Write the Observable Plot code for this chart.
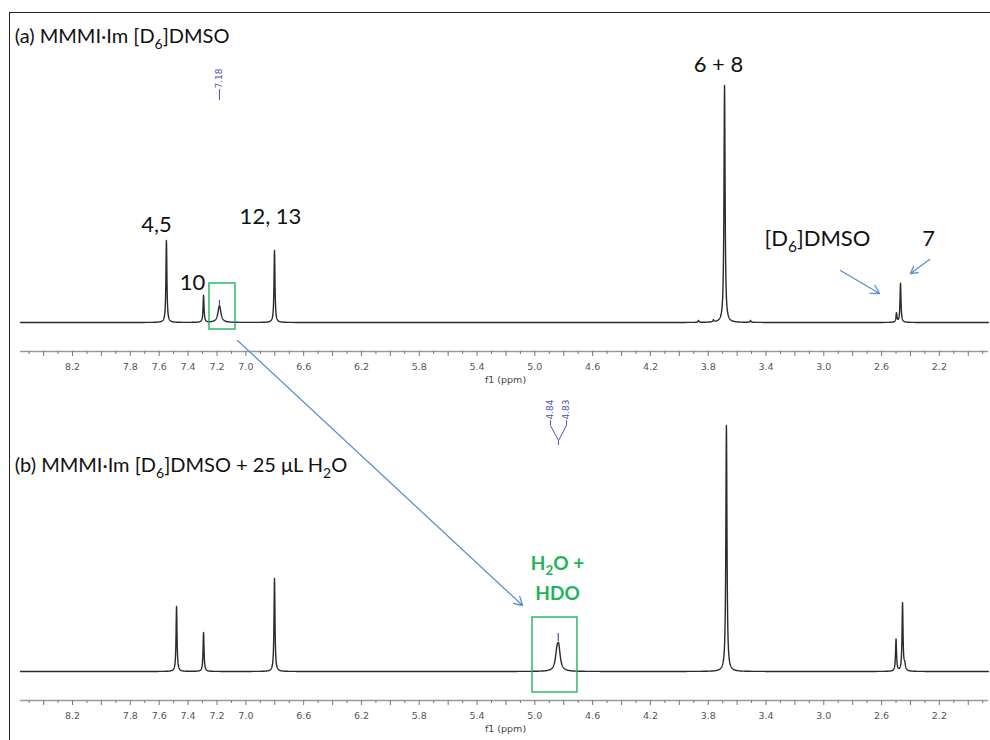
<!DOCTYPE html>
<html><head><meta charset="utf-8">
<script src="https://cdn.jsdelivr.net/npm/d3@7"></script>
<script src="https://cdn.jsdelivr.net/npm/@observablehq/plot@0.6"></script>
<style>
body{margin:0;background:#fff;}
#wrap{position:relative;width:990px;height:740px;overflow:hidden;background:#fff;}
#border{position:absolute;left:9px;top:11.5px;width:1000px;height:760px;border-top:1.6px solid #222;border-left:1.6px solid #222;pointer-events:none;}
</style></head>
<body><div id="wrap"><div id="chart"></div><div id="border"></div></div>
<script>
// ---------- data ----------
const panels = ["a", "b"];
const panelTitles = ["(a) MMMI·Im [D_6]DMSO", "(b) MMMI·Im [D_6]DMSO + 25 μL H_2O"];

// panel (a) peaks: chemical shift (ppm), height, half width (ppm)
const peaksA_ppm    = [7.550, 7.293, 7.183, 6.802, 3.867, 3.764, 3.687, 3.507, 2.497, 2.469];
const peaksA_height = [82,    27,    17,    72,    2,     2,     237,   2,     9,     39];
const peaksA_hw     = [0.004, 0.004, 0.012, 0.004, 0.004, 0.004, 0.0045, 0.004, 0.004, 0.004];

// panel (b) peaks
const peaksB_ppm    = [7.480, 7.293, 6.802, 4.848, 4.835, 3.674, 2.500, 2.455, 2.440];
const peaksB_height = [65,    39,    93,    14,    22,    246,   32,    68,    6];
const peaksB_hw     = [0.004, 0.004, 0.004, 0.012, 0.013, 0.0045, 0.004, 0.004, 0.006];

// axis ticks
const tickLabels = [8.2, 7.8, 7.6, 7.4, 7.2, 7.0, 6.6, 6.2, 5.8, 5.4, 5.0, 4.6, 4.2, 3.8, 3.4, 3.0, 2.6, 2.2];
const majorTicks = [8.4, 8.2, 8.0, 7.8, 7.6, 7.4, 7.2, 7.0, 6.8, 6.6, 6.4, 6.2, 6.0, 5.8, 5.6, 5.4, 5.2, 5.0, 4.8, 4.6, 4.4, 4.2, 4.0, 3.8, 3.6, 3.4, 3.2, 3.0, 2.8, 2.6, 2.4, 2.2, 2.0];
const minorTicks = [8.5, 8.3, 8.1, 7.9, 7.7, 7.5, 7.3, 7.1, 6.9, 6.7, 6.5, 6.3, 6.1, 5.9, 5.7, 5.5, 5.3, 5.1, 4.9, 4.7, 4.5, 4.3, 4.1, 3.9, 3.7, 3.5, 3.3, 3.1, 2.9, 2.7, 2.5, 2.3, 2.1, 1.9];

// peak labels
const peakLabelText  = ["4,5", "10", "12, 13", "6 + 8", "[D_6]DMSO", "7"];
const peakLabelPanel = ["a", "a", "a", "a", "a", "a"];
const peakPickA = ["7.18"];
const peakPickB = ["4.84", "4.83"];
const waterLabel = ["H_2O +", "HDO"];

// ---------- build spectra from the peak lists ----------
const X_MAX = 8.56, X_MIN = 1.86;
function spectrum(panel, ppm, h, hw) {
  const xs = d3.range(X_MAX, X_MIN, -0.001).concat(ppm).sort((p, q) => q - p);
  return xs.map(x => ({panel, ppm: x, i: d3.sum(ppm, (p, k) => h[k] / (1 + ((x - p) / hw[k]) ** 2))}));
}
const specA = spectrum("a", peaksA_ppm, peaksA_height, peaksA_hw);
const specB = spectrum("b", peaksB_ppm, peaksB_height, peaksB_hw);

// ---------- annotation layout (data coordinates) ----------
const titleRows = panels.map((p, k) => ({panel: p, text: panelTitles[k], x: 8.60, y: k === 0 ? 286 : 206}));
const labelPos = [[7.619, 98], [7.37, 40], [6.83, 106], [3.729, 258], [3.044, 84], [2.275, 84]];
const labelRows = peakLabelText.map((t, k) => ({panel: peakLabelPanel[k], text: t, x: labelPos[k][0], y: labelPos[k][1]}));
const waterRows = waterLabel.map((t, k) => ({panel: "b", text: t, x: 4.843, y: k === 0 ? 108 : 78}));
const axisTitleRows = panels.map(p => ({panel: p, text: "f1 (ppm)", x: 5.203, y: -57}));

const blue = "#5b8fd2", green = "#1fb45a", pick = "#5050b0";

const chart = Plot.plot({
  width: 990, height: 740,
  marginTop: 2, marginBottom: 40, marginLeft: 20, marginRight: 2,
  x: {domain: [X_MAX, X_MIN], label: null},
  y: {domain: [-29, 320], axis: null},
  fy: {domain: panels, padding: 0, axis: null},
  style: {fontFamily: "Lato, 'Open Sans', sans-serif", background: "transparent", overflow: "visible"},
  marks: [
    // axis line + ticks
    Plot.ruleY([-29], {stroke: "#9a9a9a", strokeWidth: 1.6}),
    Plot.axisX(minorTicks, {anchor: "bottom", tickSize: 3, tickFormat: () => "", label: null, stroke: "#777", facetAnchor: null}),
    Plot.axisX(majorTicks, {anchor: "bottom", tickSize: 5, tickFormat: () => "", label: null, stroke: "#777", facetAnchor: null}),
    Plot.axisX(tickLabels, {anchor: "bottom", tickSize: 0, tickPadding: 12, tickFormat: d3.format(".1f"), label: null, fontSize: 9.5, fontFamily: "DejaVu Sans", fill: "#555", facetAnchor: null}),
    Plot.text(axisTitleRows, {x: "x", y: "y", text: "text", fy: "panel", fontSize: 9.5, fontFamily: "DejaVu Sans", fill: "#444"}),

    // spectra
    Plot.line(specA, {x: "ppm", y: "i", fy: "panel", stroke: "#2b2b2b", strokeWidth: 1.4}),
    Plot.line(specB, {x: "ppm", y: "i", fy: "panel", stroke: "#2b2b2b", strokeWidth: 1.4}),

    // peak-pick markers
    Plot.ruleX([{panel: "a", x: 7.183, y1: 15, y2: 22}], {x: "x", y1: "y1", y2: "y2", fy: "panel", stroke: pick, strokeWidth: 1.2}),
    Plot.ruleX([{panel: "b", x: 4.838, y1: 30, y2: 38}], {x: "x", y1: "y1", y2: "y2", fy: "panel", stroke: pick, strokeWidth: 1.2}),
    Plot.ruleX([{panel: "a", x: 7.183, y1: 222, y2: 233}], {x: "x", y1: "y1", y2: "y2", fy: "panel", stroke: pick, strokeWidth: 1}),
    Plot.text([{panel: "a", x: 7.183, y: 234, text: peakPickA[0]}], {x: "x", y: "y", text: "text", fy: "panel", rotate: -90, textAnchor: "start", fontSize: 9, fontFamily: "DejaVu Sans", fill: pick}),
    Plot.text([{panel: "b", x: 4.892, y: 252, text: peakPickB[0]}, {panel: "b", x: 4.781, y: 252, text: peakPickB[1]}], {x: "x", y: "y", text: "text", fy: "panel", rotate: -90, textAnchor: "start", fontSize: 9, fontFamily: "DejaVu Sans", fill: pick}),
    Plot.line([
      {panel: "b", g: 0, x: 4.892, y: 251}, {panel: "b", g: 0, x: 4.892, y: 246}, {panel: "b", g: 0, x: 4.836, y: 231}, {panel: "b", g: 0, x: 4.836, y: 227},
      {panel: "b", g: 1, x: 4.781, y: 251}, {panel: "b", g: 1, x: 4.781, y: 246}, {panel: "b", g: 1, x: 4.836, y: 231}
    ], {x: "x", y: "y", z: "g", fy: "panel", stroke: pick, strokeWidth: 1}),

    // green boxes
    Plot.rect([{panel: "a", x1: 7.252, x2: 7.072, y1: -7, y2: 39}, {panel: "b", x1: 5.016, x2: 4.705, y1: -21, y2: 54}],
      {x1: "x1", x2: "x2", y1: "y1", y2: "y2", fy: "panel", fill: "none", stroke: green, strokeWidth: 1.4}),

    // arrows
    Plot.arrow([{panel: "a", x1: 7.058, y1: -18, x2: 5.085, y2: -283}], {x1: "x1", y1: "y1", x2: "x2", y2: "y2", fy: "panel", stroke: blue, strokeWidth: 1.3, headLength: 11}),
    Plot.arrow([{panel: "a", x1: 2.885, y1: 52, x2: 2.614, y2: 29}, {panel: "a", x1: 2.268, y1: 63, x2: 2.400, y2: 49}], {x1: "x1", y1: "y1", x2: "x2", y2: "y2", fy: "panel", stroke: blue, strokeWidth: 1.3, headLength: 11}),

    // labels
    Plot.text(titleRows, {x: "x", y: "y", text: "text", fy: "panel", textAnchor: "start", fontSize: 20, fill: "#111"}),
    Plot.text(labelRows, {x: "x", y: "y", text: "text", fy: "panel", fontSize: 22, fill: "#111"}),
    Plot.text(waterRows, {x: "x", y: "y", text: "text", fy: "panel", fontSize: 19, fontWeight: "bold", fill: green})
  ]
});

document.getElementById("chart").appendChild(chart);

// render "_d" as a real subscript
d3.select(chart).selectAll("text").each(function () {
  const el = this;
  if (el.children.length || !/_\d/.test(el.textContent)) return;
  const fs = parseFloat(getComputedStyle(el).fontSize) || 16;
  const shift = fs * 0.28;
  const parts = el.textContent.split(/_(\d)/);
  el.textContent = "";
  let down = false;
  parts.forEach((p, k) => {
    const t = document.createElementNS("http://www.w3.org/2000/svg", "tspan");
    if (k % 2 === 1) {
      t.setAttribute("font-size", fs * 0.7);
      t.setAttribute("dy", shift);
      down = true;
    } else if (down) {
      t.setAttribute("dy", -shift);
      down = false;
    }
    t.textContent = p;
    el.appendChild(t);
  });
});
</script>
</body></html>
